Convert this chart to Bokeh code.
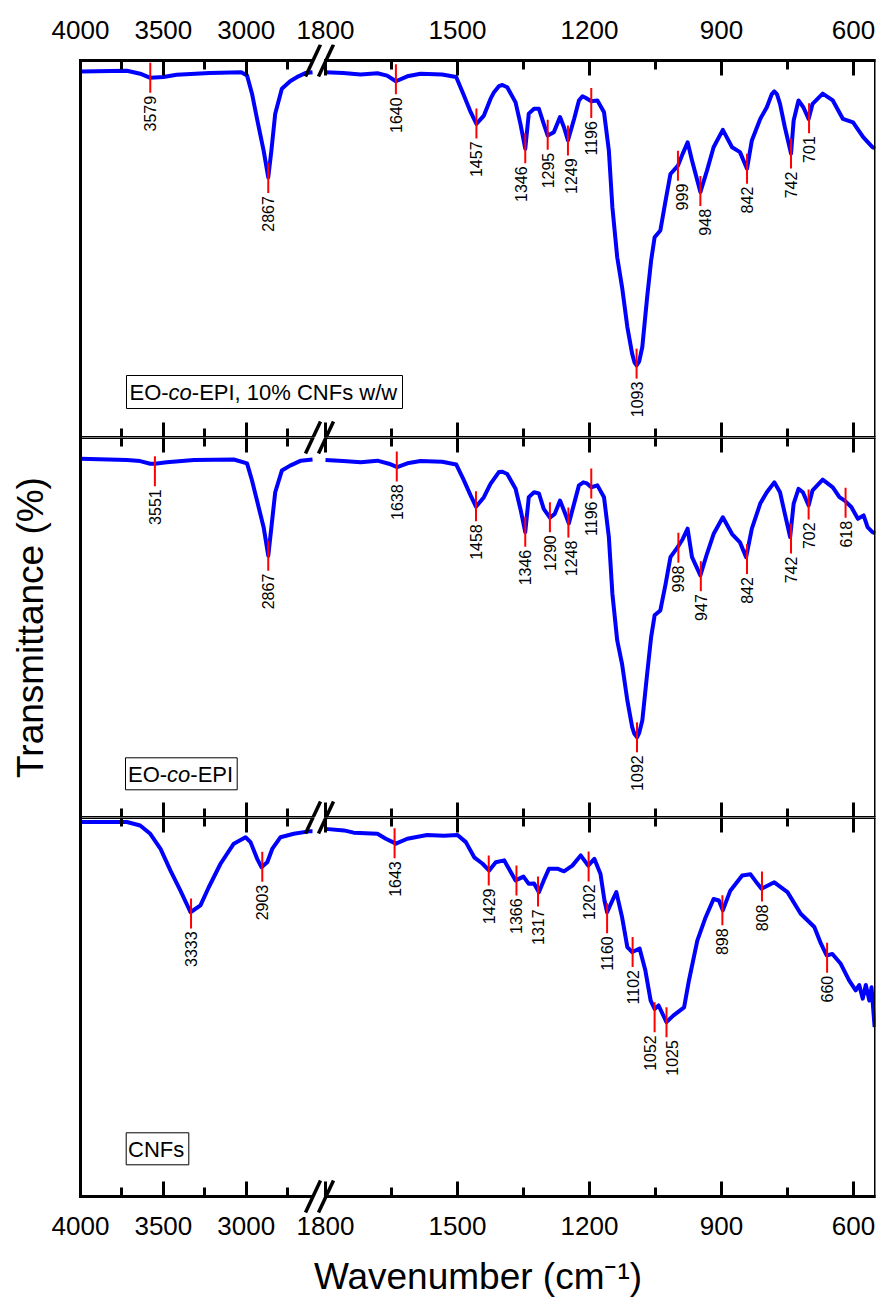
from math import pi
from bokeh.plotting import figure
from bokeh.models import (Range1d, LinearAxis, FixedTicker, ColumnDataSource, Label,
                          BoxAnnotation, Arrow)
from bokeh.layouts import column
from bokeh.embed import file_html
from bokeh.resources import INLINE
from bokeh.core.properties import value

# ---------------- data ----------------
# Panel 1: EO-co-EPI, 10% CNFs w/w
p1_left_wn = [4000, 3720, 3640, 3579, 3500, 3420, 3220, 3030, 2995, 2965, 2935, 2895, 2867,
              2848, 2825, 2785, 2735, 2685, 2640, 2600]
p1_left_T = [97.1, 97.3, 96.5, 95.4, 95.6, 96.2, 96.7, 96.9, 96.0, 91.2, 84.6, 76.1, 69.0,
             76.1, 85.9, 92.5, 94.5, 95.8, 96.7, 96.9]
p1_right_wn = [1800, 1760, 1720, 1682, 1660, 1640, 1614, 1584, 1535, 1503, 1487, 1470, 1457,
               1440, 1425, 1417, 1406, 1398, 1387, 1368, 1357, 1346, 1338, 1326, 1315, 1304,
               1295, 1281, 1267, 1258, 1249, 1235, 1224, 1216, 1209, 1196, 1182, 1167, 1156,
               1148, 1137, 1126, 1114, 1103, 1098, 1093, 1087, 1080, 1069, 1060, 1052, 1039,
               1027, 1016, 999, 988, 977, 967, 948, 933, 918, 897, 876, 858, 842, 831, 812,
               797, 786, 780, 774, 767, 756, 742, 736, 725, 714, 702, 693, 670, 647, 624, 601,
               578, 557, 550]
p1_right_T = [96.9, 96.7, 96.3, 96.6, 96.0, 94.5, 95.8, 96.5, 96.3, 95.6, 91.2, 86.3, 83.2,
              85.4, 89.8, 91.6, 93.2, 93.5, 92.9, 88.9, 83.2, 76.6, 85.9, 87.2, 87.2, 83.2,
              80.1, 81.0, 85.0, 82.3, 78.8, 84.5, 89.4, 90.5, 90.1, 89.2, 89.4, 86.3, 76.1,
              61.1, 47.8, 39.9, 29.3, 22.2, 20.0, 19.1, 20.2, 24.0, 37.2, 46.9, 53.1, 54.9,
              62.9, 69.9, 72.1, 75.3, 78.3, 73.5, 65.1, 70.8, 77.0, 81.6, 77.0, 75.7, 71.3,
              78.8, 84.5, 87.6, 91.0, 91.8, 91.1, 88.5, 82.3, 75.3, 84.1, 89.4, 87.6, 84.5,
              88.5, 91.2, 89.4, 84.5, 83.6, 79.7, 77.0, 76.7]
p1_peak_wn = [3579, 2867, 1640, 1457, 1346, 1295, 1249, 1196, 1093, 999, 948, 842, 742, 701]
p1_peak_T = [95.4, 68.8, 95.0, 83.3, 76.7, 80.3, 78.8, 88.7, 19.6, 72.1, 65.4, 71.3, 75.3, 84.7]

# Panel 2: EO-co-EPI
p2_left_wn = [4000, 3720, 3640, 3579, 3551, 3480, 3315, 3075, 2995, 2965, 2935, 2895, 2867,
              2848, 2825, 2785, 2735, 2670, 2600]
p2_left_T = [94.4, 94.1, 93.8, 93.1, 93.1, 93.5, 94.1, 94.2, 93.2, 88.7, 83.4, 76.4, 68.9,
             76.4, 85.6, 91.3, 92.6, 93.9, 94.2]
p2_right_wn = [1800, 1760, 1720, 1682, 1656, 1637, 1614, 1584, 1535, 1503, 1487, 1470, 1458,
               1440, 1425, 1406, 1398, 1387, 1368, 1357, 1346, 1338, 1326, 1315, 1304, 1290,
               1279, 1267, 1258, 1247, 1235, 1224, 1214, 1207, 1196, 1182, 1167, 1156, 1148,
               1137, 1126, 1114, 1103, 1098, 1092, 1087, 1080, 1069, 1060, 1052, 1039, 1027,
               1016, 1000, 988, 977, 967, 948, 933, 918, 897, 876, 858, 844, 831, 812, 797,
               780, 767, 756, 744, 736, 725, 715, 702, 693, 670, 647, 632, 620, 605, 590, 577,
               568, 557, 550]
p2_right_T = [94.1, 93.8, 93.5, 93.9, 93.1, 92.2, 93.2, 93.8, 93.6, 92.9, 89.1, 84.7, 81.8,
              84.3, 87.8, 90.9, 91.0, 90.4, 86.5, 81.2, 75.1, 84.3, 85.6, 85.3, 81.2, 78.9,
              79.9, 83.4, 80.8, 77.4, 82.6, 87.4, 88.2, 88.0, 86.9, 87.4, 84.3, 73.8, 58.9,
              46.6, 40.4, 30.8, 23.8, 22.0, 21.1, 22.3, 25.5, 37.8, 47.4, 53.2, 54.5, 61.5,
              68.5, 71.1, 73.3, 76.0, 68.5, 63.7, 69.4, 74.6, 79.0, 74.6, 72.4, 68.5, 76.0,
              82.6, 85.6, 88.2, 85.6, 79.9, 73.8, 82.6, 86.5, 85.6, 82.1, 86.1, 88.9, 86.9,
              84.3, 83.4, 81.7, 78.6, 79.5, 76.4, 75.1, 74.8]
p2_peak_wn = [3551, 2867, 1638, 1458, 1346, 1290, 1248, 1196, 1092, 998, 947, 842, 742, 702, 618]
p2_peak_T = [91.1, 68.9, 92.4, 81.9, 75.2, 79.0, 77.6, 87.9, 21.1, 71.0, 63.5, 68.0, 73.4,
             82.4, 82.8]

# Panel 3: CNFs
p3_left_wn = [4000, 3720, 3640, 3579, 3517, 3457, 3397, 3336, 3276, 3226, 3155, 3075, 3004,
              2974, 2934, 2908, 2873, 2843, 2793, 2713, 2612, 2600]
p3_left_T = [98.8, 98.8, 97.9, 95.7, 91.7, 86.0, 80.7, 75.0, 76.8, 81.6, 87.8, 93.1, 94.8,
             93.5, 89.1, 86.9, 88.2, 91.7, 94.8, 95.7, 96.4, 96.4]
p3_right_wn = [1800, 1758, 1736, 1682, 1663, 1640, 1614, 1569, 1531, 1500, 1481, 1462, 1443,
               1428, 1413, 1394, 1379, 1368, 1350, 1338, 1326, 1315, 1304, 1292, 1273, 1258,
               1239, 1220, 1203, 1189, 1175, 1166, 1160, 1148, 1139, 1126, 1114, 1103, 1086,
               1073, 1061, 1052, 1043, 1025, 1009, 985, 974, 955, 936, 918, 906, 897, 880, 853,
               834, 818, 809, 780, 750, 720, 689, 674, 661, 648, 629, 610, 595, 587, 579, 572,
               564, 559, 552]
p3_right_T = [97.0, 96.6, 96.0, 95.7, 94.4, 93.1, 94.4, 95.4, 95.2, 95.4, 93.5, 89.5, 87.8,
              86.0, 88.2, 88.7, 85.6, 83.4, 84.4, 82.5, 82.6, 80.3, 83.4, 86.5, 86.5, 85.8,
              87.3, 90.0, 87.3, 89.1, 85.1, 78.1, 75.0, 78.1, 80.3, 73.7, 65.8, 64.5, 65.4,
              59.6, 51.7, 49.5, 50.4, 46.0, 47.8, 49.9, 57.0, 67.5, 73.7, 78.5, 78.1, 75.5, 80.7,
              84.7, 85.0, 82.5, 81.2, 82.9, 80.3, 74.6, 71.1, 66.7, 63.6, 64.0, 61.4, 57.0, 54.4,
              55.8, 52.2, 55.8, 51.7, 55.2, 44.7]
p3_peak_wn = [3333, 2903, 1643, 1429, 1366, 1317, 1202, 1160, 1102, 1052, 1025, 898, 808, 660]
p3_peak_T = [74.7, 87.0, 93.2, 86.0, 83.4, 80.5, 87.1, 73.4, 64.5, 47.3, 46.0, 75.5, 81.8, 63.0]

# axis segments and ticks
left_segment = (4000, 2600)
right_segment = (1800, 550)
left_major = [4000, 3500, 3000]
left_minor = [3750, 3250, 2750]
right_major = [1800, 1500, 1200, 900, 600]
right_minor = [1650, 1350, 1050, 750]
T_SPAN = (0, 100)

# ---------------- layout / style ----------------
FONT = "Liberation Sans"
FRAME_W = 795
LEFT_PX = 232      # pixel width of the 4000-2600 segment
RIGHT_PX0 = 245    # pixel where the 1800-550 segment starts
left_end = left_segment[0] + (left_segment[1] - left_segment[0]) * FRAME_W / LEFT_PX
right_start = right_segment[0] - (right_segment[1] - right_segment[0]) * RIGHT_PX0 / (FRAME_W - RIGHT_PX0)

# small horizontal nudges of peak labels (px), as in the original layout
label_nudge = [{1346: -4, 1249: 3, 999: 4, 948: 5}, {1248: 3}, {1052: -5, 1025: 5}]


def to_right_coord(v):
    px = (left_segment[0] - v) * LEFT_PX / (left_segment[0] - left_segment[1])
    return right_start - px * (right_start - right_segment[1]) / FRAME_W


def add_x_axes(p, side):
    loc = T_SPAN[1] if side == "above" else T_SPAN[0]
    specs = (("default", left_major, left_minor, left_segment),
             ("right", right_major, right_minor, right_segment))
    for rname, major, minor, seg in specs:
        ax = LinearAxis(x_range_name=rname,
                        ticker=FixedTicker(ticks=major, minor_ticks=minor),
                        bounds=(min(seg), max(seg)), fixed_location=loc,
                        axis_line_width=3, axis_line_color="black", axis_line_cap="square",
                        major_tick_in=15, major_tick_out=0, minor_tick_in=9, minor_tick_out=0,
                        major_tick_line_width=3, minor_tick_line_width=3,
                        major_tick_line_color="black", minor_tick_line_color="black",
                        major_label_text_color=None)
        p.add_layout(ax, side)


def add_label_axis(p, side, standoff, title=None):
    pos = [to_right_coord(v) for v in left_major] + list(right_major)
    names = [str(v) for v in left_major + right_major]
    ax = LinearAxis(x_range_name="right", ticker=FixedTicker(ticks=pos, minor_ticks=[]),
                    major_label_overrides=dict(zip(pos, names)),
                    axis_line_color=None, major_tick_line_color=None,
                    minor_tick_line_color=None, major_tick_in=0, major_tick_out=0,
                    minor_tick_in=0, minor_tick_out=0, major_label_standoff=standoff,
                    major_label_text_font=FONT, major_label_text_font_size="26px",
                    major_label_text_color="black")
    if title is not None:
        ax.axis_label = title
        ax.axis_label_text_font = FONT
        ax.axis_label_text_font_size = "37px"
        ax.axis_label_text_font_style = "normal"
        ax.axis_label_text_color = "black"
        ax.axis_label_standoff = 18
    p.add_layout(ax, side)


def make_panel(panel_h, extra_top, extra_bottom, top_b, bottom_b,
               lwn, lT, rwn, rT, pk_wn, pk_T, nudge, ytitle=None):
    span = T_SPAN[1] - T_SPAN[0]
    y0 = T_SPAN[0] - span * extra_bottom / panel_h
    y1 = T_SPAN[1] + span * extra_top / panel_h
    p = figure(frame_width=FRAME_W, frame_height=panel_h + extra_top + extra_bottom,
               min_border_left=80, min_border_right=3,
               min_border_top=top_b, min_border_bottom=bottom_b,
               x_range=Range1d(left_segment[0], left_end), y_range=Range1d(y0, y1),
               x_axis_type=None, y_axis_type=None,
               toolbar_location=None, output_backend="svg",
               outline_line_color=None, background_fill_color="white",
               border_fill_color="white")
    p.extra_x_ranges = {"right": Range1d(right_start, right_segment[1])}

    # frame borders with inward ticks
    add_x_axes(p, "above")
    add_x_axes(p, "below")
    lax = LinearAxis(ticker=FixedTicker(ticks=[]), bounds=T_SPAN, axis_line_width=3,
                     axis_line_color="black", axis_line_cap="square",
                     major_tick_in=0, major_tick_out=0, minor_tick_in=0, minor_tick_out=0,
                     major_label_text_color=None, major_label_standoff=0)
    if ytitle:
        lax.axis_label = ytitle
        lax.axis_label_text_font = FONT
        lax.axis_label_text_font_size = "37px"
        lax.axis_label_text_font_style = "normal"
        lax.axis_label_text_color = "black"
        lax.axis_label_standoff = 30
    p.add_layout(lax, "left")
    rax = LinearAxis(x_range_name="right", fixed_location=right_segment[1], bounds=T_SPAN,
                     ticker=FixedTicker(ticks=[]), axis_line_width=3,
                     axis_line_color="black", axis_line_cap="square",
                     major_tick_in=0, major_tick_out=0, minor_tick_in=0, minor_tick_out=0,
                     major_label_text_color=None)
    p.add_layout(rax, "right")

    # spectra
    p.line(lwn, lT, line_color="#0000FF", line_width=4, line_join="round")
    p.line(rwn, rT, line_color="#0000FF", line_width=4, line_join="round",
           x_range_name="right")

    # peak markers and labels
    for rname, keep in (("default", lambda w: w > 2000), ("right", lambda w: w < 2000)):
        sel = [(w, t) for w, t in zip(pk_wn, pk_T) if keep(w)]
        src = ColumnDataSource(dict(x=[w for w, _ in sel], y=[t for _, t in sel],
                                    txt=[str(w) for w, _ in sel],
                                    dx=[nudge.get(w, 0) for w, _ in sel]))
        p.scatter("x", "y", source=src, marker="dash", size=30, angle=pi / 2,
                  line_color="#FF0000", line_width=2, x_range_name=rname)
        p.text("x", "y", text="txt", source=src, angle=pi / 2, text_align="right",
               text_baseline="middle", y_offset=18, x_offset="dx", text_font=value(FONT),
               text_font_size="16px", text_color="black", x_range_name=rname)

    # axis break marks
    for border in (extra_bottom, extra_bottom + panel_h):
        for cx in (232.5, 245.5):
            p.add_layout(Arrow(x_start=cx - 7.5, y_start=border - 16,
                               x_end=cx + 7.5, y_end=border + 16,
                               start_units="screen", end_units="screen",
                               start=None, end=None, line_color="black", line_width=3.5))
    return p


p1 = make_panel(377, 16, 0, 44, 0, p1_left_wn, p1_left_T, p1_right_wn, p1_right_T,
                p1_peak_wn, p1_peak_T, label_nudge[0])
p2 = make_panel(380, 0, 0, 0, 0, p2_left_wn, p2_left_T, p2_right_wn, p2_right_T,
                p2_peak_wn, p2_peak_T, label_nudge[1], ytitle="Transmittance (%)")
p3 = make_panel(379, 0, 17, 0, 90, p3_left_wn, p3_left_T, p3_right_wn, p3_right_T,
                p3_peak_wn, p3_peak_T, label_nudge[2])
add_label_axis(p1, "above", 6)
add_label_axis(p3, "below", 3, title="Wavenumber (cm\u207b\u00b9)")


def boxed_label(p, parts, box, x0, y0, lift=0):
    left, right, bottom, top = box
    p.add_layout(BoxAnnotation(left=left, right=right, bottom=bottom + lift, top=top + lift,
                               left_units="screen", right_units="screen",
                               bottom_units="screen", top_units="screen",
                               fill_color="white", fill_alpha=1.0,
                               line_color="black", line_alpha=1.0, line_width=1))
    x = x0
    for txt, style, w in parts:
        p.add_layout(Label(x=x, y=y0 + lift, x_units="screen", y_units="screen", text=txt,
                           text_font=FONT, text_font_size="22px", text_font_style=style,
                           text_color="black", text_align="left",
                           text_baseline="alphabetic"))
        x += w


boxed_label(p1, [("EO-", "normal", 39.1), ("co", "italic", 23.2),
                 ("-EPI, 10% CNFs w/w", "normal", 0)], (46, 322, 29, 62), 49, 45)
boxed_label(p2, [("EO-", "normal", 39.1), ("co", "italic", 23.2),
                 ("-EPI", "normal", 0)], (45, 156.7, 27.7, 59.7), 47.5, 43.3)
boxed_label(p3, [("CNFs", "normal", 0)], (45.7, 108.3, 31.7, 63.7), 47.5, 47.3, lift=17)

layout = column(p1, p2, p3, spacing=0)
open("out.html", "w").write(file_html(layout, INLINE))
